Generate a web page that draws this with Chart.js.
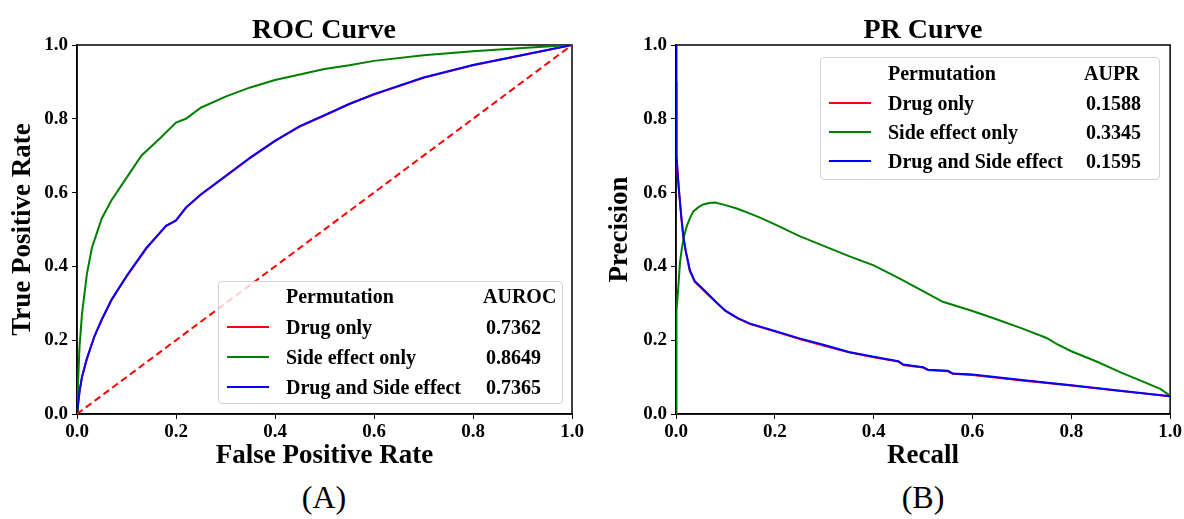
<!DOCTYPE html>
<html>
<head>
<meta charset="utf-8">
<script src="https://cdn.jsdelivr.net/npm/chart.js@4.4.0/dist/chart.umd.min.js"></script>
<style>
  body { margin: 0; background: #fff; font-family: "Liberation Serif", "Times New Roman", serif; }
  #wrap { position: relative; width: 1184px; height: 519px; overflow: hidden; }
  canvas { position: absolute; top: 0; }
  .title { position: absolute; font-weight: bold; font-size: 28px; transform: translate(-50%, -50%); white-space: nowrap; line-height: 1; }
  .panel { position: absolute; font-size: 32px; transform: translate(-50%, -50%); line-height: 1; }
  .legend { position: absolute; background: rgba(255,255,255,0.8); border: 1px solid #d3d3d3; border-radius: 4px;
            box-sizing: border-box; font-weight: bold; font-size: 20px; }
  .legend span { position: absolute; white-space: nowrap; transform: translateY(-50%); line-height: 1; }
  .legend i { position: absolute; height: 2px; width: 42px; transform: translateY(-50%); }
</style>
</head>
<body>
<div id="wrap">
  <canvas id="rocChart" width="600" height="470" style="left:0"></canvas>
  <canvas id="prChart" width="584" height="470" style="left:600px"></canvas>
  <div class="title" style="left:324px; top:29px">ROC Curve</div>
  <div class="title" style="left:923px; top:29px">PR Curve</div>
  <div class="panel" style="left:324px; top:497px">(A)</div>
  <div class="panel" style="left:923px; top:497px">(B)</div>
  <div class="legend" id="rocLegend" style="left:218px; top:281px; width:345px; height:123px"></div>
  <div class="legend" id="prLegend" style="left:820px; top:57px; width:340px; height:123px"></div>
</div>
<script>
const tickLabels = ['0.0', '0.2', '0.4', '0.6', '0.8', '1.0'];
const seriesNames = ['Drug only', 'Side effect only', 'Drug and Side effect'];
const seriesColors = ['#ff0000', '#008000', '#0000ff'];
const aurocValues = ['0.7362', '0.8649', '0.7365'];
const auprValues = ['0.1588', '0.3345', '0.1595'];

// ROC curves
const rocSideFpr = [0, 0.002, 0.005, 0.01, 0.02, 0.03, 0.04, 0.05, 0.07, 0.1, 0.13, 0.17, 0.2, 0.22, 0.25, 0.3, 0.35, 0.4, 0.45, 0.5, 0.55, 0.6, 0.7, 0.8, 0.9, 1.0];
const rocSideTpr = [0, 0.08, 0.18, 0.27, 0.38, 0.45, 0.49, 0.53, 0.58, 0.64, 0.70, 0.75, 0.79, 0.80, 0.83, 0.86, 0.885, 0.905, 0.92, 0.935, 0.945, 0.957, 0.972, 0.983, 0.992, 1.0];
const rocBothFpr = [0, 0.005, 0.01, 0.02, 0.035, 0.05, 0.07, 0.1, 0.14, 0.18, 0.2, 0.22, 0.25, 0.3, 0.35, 0.4, 0.45, 0.5, 0.55, 0.6, 0.7, 0.8, 0.9, 1.0];
const rocBothTpr = [0, 0.06, 0.1, 0.15, 0.21, 0.256, 0.31, 0.374, 0.45, 0.51, 0.525, 0.56, 0.595, 0.645, 0.695, 0.74, 0.78, 0.81, 0.84, 0.867, 0.912, 0.946, 0.973, 1.0];
const rocDrugFpr = [0, 0.005, 0.01, 0.02, 0.035, 0.05, 0.07, 0.1, 0.14, 0.18, 0.2, 0.22, 0.25, 0.3, 0.35, 0.4, 0.45, 0.5, 0.55, 0.6, 0.7, 0.8, 0.9, 1.0];
const rocDrugTpr = [0, 0.06, 0.1, 0.15, 0.21, 0.255, 0.31, 0.372, 0.448, 0.51, 0.524, 0.558, 0.594, 0.644, 0.694, 0.74, 0.779, 0.809, 0.84, 0.866, 0.911, 0.945, 0.972, 1.0];
const diagX = [0, 1];
const diagY = [0, 1];

// PR curves
const prSideRecall = [0, 0, 0.002, 0.005, 0.008, 0.012, 0.016, 0.022, 0.028, 0.035, 0.045, 0.055, 0.067, 0.079, 0.1, 0.123, 0.15, 0.17, 0.2, 0.25, 0.3, 0.35, 0.4, 0.45, 0.5, 0.54, 0.6, 0.65, 0.7, 0.75, 0.77, 0.8, 0.85, 0.9, 0.95, 0.98, 1.0];
const prSidePrec = [0, 0.2, 0.28, 0.35, 0.41, 0.45, 0.48, 0.51, 0.53, 0.549, 0.56, 0.568, 0.572, 0.573, 0.566, 0.557, 0.543, 0.532, 0.514, 0.482, 0.455, 0.428, 0.403, 0.369, 0.333, 0.304, 0.279, 0.256, 0.232, 0.206, 0.19, 0.17, 0.143, 0.113, 0.085, 0.068, 0.05];
const prBothRecall = [0, 0, 0.002, 0.004, 0.007, 0.011, 0.015, 0.02, 0.028, 0.038, 0.05, 0.065, 0.08, 0.1, 0.125, 0.15, 0.2, 0.25, 0.3, 0.35, 0.4, 0.45, 0.46, 0.5, 0.51, 0.55, 0.56, 0.6, 0.7, 0.8, 0.9, 1.0];
const prBothPrec = [1.0, 0.8, 0.7, 0.64, 0.59, 0.53, 0.48, 0.44, 0.39, 0.36, 0.345, 0.325, 0.305, 0.28, 0.26, 0.245, 0.225, 0.205, 0.187, 0.168, 0.155, 0.143, 0.134, 0.127, 0.12, 0.117, 0.11, 0.107, 0.092, 0.078, 0.063, 0.048];
const prDrugRecall = [0, 0, 0.002, 0.004, 0.007, 0.011, 0.015, 0.02, 0.028, 0.038, 0.05, 0.065, 0.08, 0.1, 0.125, 0.15, 0.2, 0.25, 0.3, 0.35, 0.4, 0.45, 0.46, 0.5, 0.51, 0.55, 0.56, 0.6, 0.7, 0.8, 0.9, 1.0];
const prDrugPrec = [0.9, 0.8, 0.7, 0.64, 0.59, 0.53, 0.478, 0.438, 0.388, 0.358, 0.343, 0.323, 0.304, 0.279, 0.259, 0.244, 0.224, 0.203, 0.185, 0.167, 0.154, 0.142, 0.133, 0.126, 0.119, 0.116, 0.109, 0.106, 0.091, 0.077, 0.062, 0.048];

Chart.defaults.font.family = '"Liberation Serif", "Times New Roman", serif';
Chart.defaults.color = '#000';

function toPoints(xs, ys) {
  return xs.map((x, i) => ({ x: x, y: ys[i] }));
}

// lower "order" is painted on top
function line(label, xs, ys, color, order, dash) {
  return {
    label: label,
    data: toPoints(xs, ys),
    borderColor: color,
    backgroundColor: color,
    borderWidth: 2,
    borderDash: dash || [],
    pointRadius: 0,
    tension: 0,
    fill: false,
    order: order
  };
}

function axis(title, size, titlePad, isY) {
  return {
    type: 'linear', min: 0, max: 1,
    ticks: {
      stepSize: 0.2, autoSkip: false, maxRotation: 0, color: '#000',
      font: { size: 19, weight: 'bold' }, padding: isY ? 4 : 2,
      callback: (v, i) => tickLabels[i]
    },
    grid: { drawOnChartArea: false, drawTicks: true, tickLength: 5, color: '#000' },
    border: { display: true, color: '#000', width: 1.5 },
    title: {
      display: true, text: title, color: '#000',
      font: { size: 27, weight: 'bold', lineHeight: 1 },
      padding: isY ? { top: titlePad, bottom: 0 } : { top: 0, bottom: 0 }
    },
    afterFit: s => { if (isY) s.width = size; else s.height = size; }
  };
}

const framePlugin = {
  id: 'frame',
  beforeDatasetsDraw(chart) {
    const a = chart.chartArea, c = chart.ctx;
    c.save();
    c.strokeStyle = '#000';
    c.lineWidth = 1.5;
    c.strokeRect(a.left, a.top, a.right - a.left, a.bottom - a.top);
    c.restore();
  }
};

function makeChart(id, datasets, xTitle, yTitle, yWidth, yTitlePad, rightPad) {
  return new Chart(document.getElementById(id), {
    type: 'line',
    data: { datasets: datasets },
    options: {
      responsive: false, animation: false, devicePixelRatio: 1,
      layout: { padding: { top: 45, right: rightPad, left: 0, bottom: 0 } },
      plugins: { legend: { display: false }, tooltip: { enabled: false } },
      scales: {
        x: axis(xTitle, 56, 0, false),
        y: axis(yTitle, yWidth, yTitlePad, true)
      }
    },
    plugins: [framePlugin]
  });
}

makeChart('rocChart', [
  line(seriesNames[0], rocDrugFpr, rocDrugTpr, seriesColors[0], 3),
  line(seriesNames[1], rocSideFpr, rocSideTpr, seriesColors[1], 2),
  line(seriesNames[2], rocBothFpr, rocBothTpr, seriesColors[2], 1),
  line('', diagX, diagY, seriesColors[0], 0, [7, 4])
], 'False Positive Rate', 'True Positive Rate', 77, 9.5, 28);

makeChart('prChart', [
  line(seriesNames[0], prDrugRecall, prDrugPrec, seriesColors[0], 3),
  line(seriesNames[1], prSideRecall, prSidePrec, seriesColors[1], 2),
  line(seriesNames[2], prBothRecall, prBothPrec, seriesColors[2], 1)
], 'Recall', 'Precision', 76, 6.5, 13);

function buildLegend(id, metric, values, rows, valueLeft, headLeft) {
  const box = document.getElementById(id);
  let html = '<span style="left:67px; top:' + rows[0] + 'px">Permutation</span>' +
             '<span style="left:' + headLeft + 'px; top:' + rows[0] + 'px">' + metric + '</span>';
  seriesNames.forEach((name, i) => {
    const y = rows[i + 1];
    html += '<i style="left:8px; top:' + y + 'px; background:' + seriesColors[i] + '"></i>' +
            '<span style="left:67px; top:' + y + 'px">' + name + '</span>' +
            '<span style="left:' + valueLeft + 'px; top:' + y + 'px">' + values[i] + '</span>';
  });
  box.innerHTML = html;
}

buildLegend('rocLegend', 'AUROC', aurocValues, [14, 45, 75, 105], 267, 264);
buildLegend('prLegend', 'AUPR', auprValues, [15, 45, 74, 103], 265, 263);
</script>
</body>
</html>
